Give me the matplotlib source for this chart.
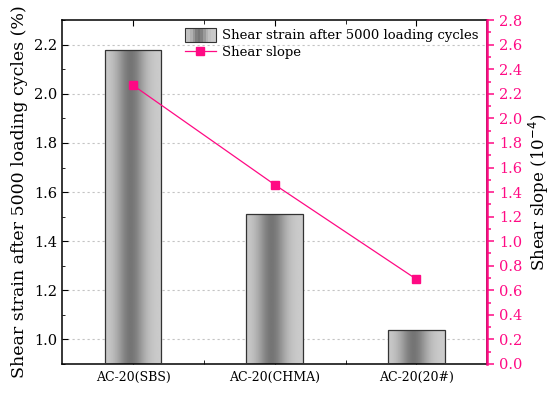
import numpy as np
import matplotlib
matplotlib.use("Agg")
import matplotlib.pyplot as plt
from matplotlib.legend_handler import HandlerBase
from matplotlib.patches import Rectangle
from matplotlib.lines import Line2D
from matplotlib.ticker import MultipleLocator

categories = ["AC-20(SBS)", "AC-20(CHMA)", "AC-20(20#)"]
strain = [2.18, 1.51, 1.04]
slope = [2.27, 1.46, 0.69]

PINK = "#FF0A84"
plt.rcParams["font.family"] = ["DejaVu Serif"]


def gray_profile(n=64):
    t = np.linspace(0, 1, n)
    # light at the edges, dark in the middle
    v = 0.80 - 0.34 * np.exp(-((t - 0.45) / 0.25) ** 2)
    return v


class GradientHandler(HandlerBase):
    def create_artists(self, legend, orig, xd, yd, w, h, fontsize, trans):
        arts = []
        prof = gray_profile(12)
        sw = w / len(prof)
        for i, g in enumerate(prof):
            r = Rectangle((xd + i * sw, yd - 1.5), sw + 0.3, h + 3, facecolor=(g, g, g),
                          edgecolor="none", transform=trans)
            arts.append(r)
        arts.append(Rectangle((xd, yd - 1.5), w, h + 3, facecolor="none",
                              edgecolor="#333333", lw=0.8, transform=trans))
        return arts


fig = plt.figure(figsize=(5.5, 3.96), dpi=100)
ax = fig.add_axes([0.113, 0.081, 0.773, 0.868])
ax2 = ax.twinx()

x = np.arange(1, len(categories) + 1)
w = 0.4

prof = gray_profile()
img = np.tile(prof, (2, 1))
bars = ax.bar(x, strain, width=w, facecolor="none", edgecolor="#333333",
              lw=0.9, zorder=3)
for xi, b in zip(x, bars):
    im = ax.imshow(img, cmap="gray", vmin=0, vmax=1, aspect="auto",
                   extent=[xi - w / 2, xi + w / 2, 0.9, b.get_height()],
                   zorder=2, interpolation="bilinear")
    im.set_clip_path(b)
ax.set_xlim(0.5, 3.5)
ax.set_ylim(0.9, 2.3)

ax.yaxis.grid(True, linestyle=(0, (2, 2.5)), color="#c4c4c4", lw=0.8, zorder=0)
ax.set_axisbelow(True)
ax.set_yticks(np.arange(1.0, 2.21, 0.2))
ax.yaxis.set_minor_locator(MultipleLocator(0.1))
ax.set_xticks(x)
ax.set_xticklabels(categories, fontsize=9)
ax.set_xticks([1.5, 2.5], minor=True)
ax.tick_params(axis="both", which="both", direction="in", top=True)
ax.tick_params(axis="y", which="major", length=4, labelsize=10.5)
ax.tick_params(axis="y", which="minor", length=2.5)
ax.tick_params(axis="x", which="major", length=4, pad=5)
ax.tick_params(axis="x", which="minor", length=3)
ax.set_ylabel("Shear strain after 5000 loading cycles (%)", fontsize=12.5)
for s in ax.spines.values():
    s.set_linewidth(1.1)

ax2.plot(x, slope, color=PINK, lw=0.9, marker="s", ms=6, zorder=5)
ax2.set_ylim(0, 2.8)
ax2.set_yticks(np.arange(0, 2.81, 0.2))
ax2.yaxis.set_minor_locator(MultipleLocator(0.1))
ax2.tick_params(axis="y", which="both", colors=PINK, direction="out",
                labelsize=10.5)
ax2.tick_params(axis="y", which="major", length=5, width=1.1)
ax2.tick_params(axis="y", which="minor", length=3, width=1.1)
ax2.spines["right"].set_color(PINK)
ax2.spines["right"].set_linewidth(1.8)
ax2.spines["left"].set_visible(False)
ax2.spines["top"].set_visible(False)
ax2.spines["bottom"].set_visible(False)
ax2.set_ylabel("Shear slope (10$^{-4}$)", fontsize=12, labelpad=3)

h_bar = Rectangle((0, 0), 1, 1)
h_line = Line2D([], [], color=PINK, lw=0.9, marker="s", ms=6)
ax2.legend([h_bar, h_line],
           ["Shear strain after 5000 loading cycles", "Shear slope"],
           handler_map={Rectangle: GradientHandler()},
           loc="upper right", frameon=False, fontsize=9.5,
           borderaxespad=0.3, handlelength=2.4, handletextpad=0.4,
           labelspacing=0.25)

fig.savefig("out.png", dpi=100)
